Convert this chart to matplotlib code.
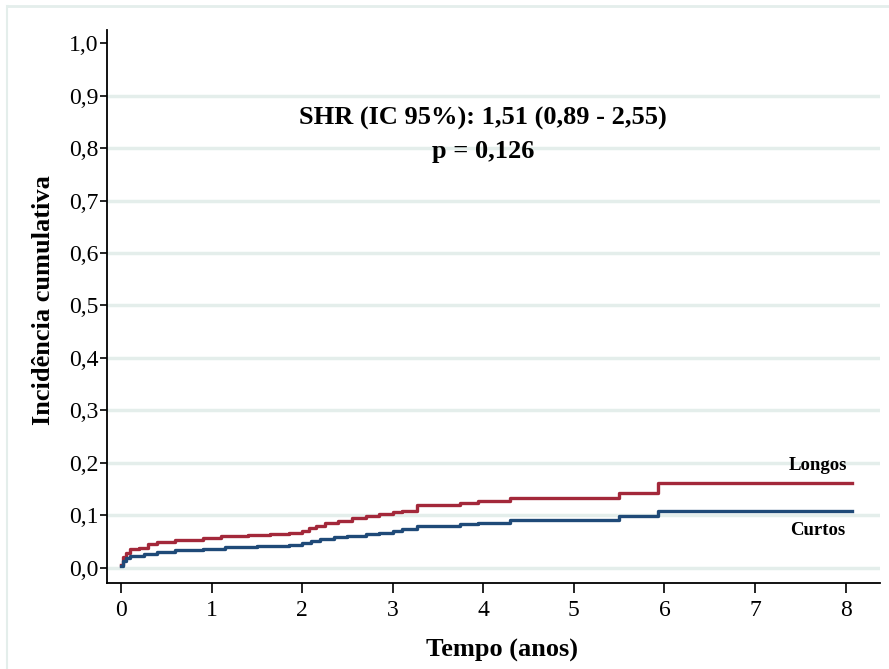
import matplotlib
matplotlib.use("Agg")
import matplotlib.pyplot as plt
from matplotlib.lines import Line2D

# data
t_longos = [0.0, 0.02, 0.05, 0.1, 0.2, 0.3, 0.4, 0.6, 0.9, 1.1, 1.4, 1.65, 1.85, 2.0,
            2.08, 2.15, 2.25, 2.4, 2.55, 2.7, 2.85, 3.0, 3.1, 3.27, 3.74, 3.94, 4.3,
            5.5, 5.93, 8.07]
y_longos = [0.005, 0.02, 0.028, 0.035, 0.038, 0.045, 0.05, 0.053, 0.056, 0.06, 0.062,
            0.065, 0.067, 0.07, 0.075, 0.08, 0.086, 0.09, 0.094, 0.098, 0.102, 0.106,
            0.108, 0.12, 0.124, 0.128, 0.133, 0.143, 0.162, 0.162]

t_curtos = [0.0, 0.02, 0.05, 0.1, 0.25, 0.4, 0.6, 0.9, 1.15, 1.5, 1.85, 2.0, 2.1,
            2.2, 2.35, 2.5, 2.7, 2.85, 3.0, 3.1, 3.27, 3.74, 3.94, 4.3, 5.5, 5.93, 8.07]
y_curtos = [0.003, 0.012, 0.018, 0.023, 0.027, 0.031, 0.034, 0.036, 0.039, 0.041,
            0.043, 0.047, 0.051, 0.055, 0.058, 0.06, 0.064, 0.067, 0.07, 0.073, 0.08,
            0.084, 0.086, 0.091, 0.098, 0.109, 0.109]

x_ticks = [0, 1, 2, 3, 4, 5, 6, 7, 8]
y_ticks = [0.0, 0.1, 0.2, 0.3, 0.4, 0.5, 0.6, 0.7, 0.8, 0.9, 1.0]
y_labels = ["0,0", "0,1", "0,2", "0,3", "0,4", "0,5", "0,6", "0,7", "0,8", "0,9", "1,0"]

red = "#a3283a"
blue = "#1f4a78"
grid_col = "#e4eeeb"

plt.rcParams['font.family'] = ['Liberation Serif', 'DejaVu Serif']

fig = plt.figure(figsize=(8.89, 6.69), dpi=100)
W, H = 889, 669
ax = fig.add_axes([107 / W, (H - 583) / H, (880 - 107) / W, (583 - 30) / H])

# light frame round the chart
fig.add_artist(Line2D([7 / W, 1.0], [1 - 6 / H, 1 - 6 / H], color=grid_col, lw=2))
fig.add_artist(Line2D([7 / W, 7 / W], [0.0, 1 - 6 / H], color=grid_col, lw=1.5))

# gridlines
for v in y_ticks[:-1]:
    ax.axhline(v, color=grid_col, lw=2.5, zorder=0)

ax.plot(t_longos, y_longos, drawstyle="steps-post", color=red, lw=2.4)
ax.plot(t_curtos, y_curtos, drawstyle="steps-post", color=blue, lw=2.4)

ax.set_xlim(-0.155, 8.38)
ax.set_ylim(-0.029, 1.025)
ax.set_xticks(x_ticks)
ax.set_yticks(y_ticks)
ax.set_yticklabels(y_labels)

for s in ["top", "right"]:
    ax.spines[s].set_visible(False)
for s in ["left", "bottom"]:
    ax.spines[s].set_linewidth(1.3)
ax.tick_params(axis="y", direction="out", length=5, width=1.2, labelsize=17, pad=1)
ax.tick_params(axis="x", direction="out", length=7, width=1.2, labelsize=17, pad=5)

ax.set_xlabel("Tempo (anos)", fontsize=19, fontweight="bold", labelpad=13)
ax.set_ylabel("Incidência cumulativa", fontsize=19, fontweight="bold", labelpad=10)
ax.xaxis.label.set_x(0.511)
ax.yaxis.label.set_y(0.512)

ax.text(4.0, 0.856, "SHR (IC 95%): 1,51 (0,89 - 2,55)", ha="center", va="center",
        fontsize=19, fontweight="bold")
ax.text(4.0, 0.793, "p = 0,126", ha="center", va="center", fontsize=19, fontweight="bold")

ax.text(7.69, 0.194, "Longos", ha="center", va="center", fontsize=13.5, fontweight="bold")
ax.text(7.69, 0.072, "Curtos", ha="center", va="center", fontsize=13.5, fontweight="bold")

fig.savefig("out.png", dpi=100)
